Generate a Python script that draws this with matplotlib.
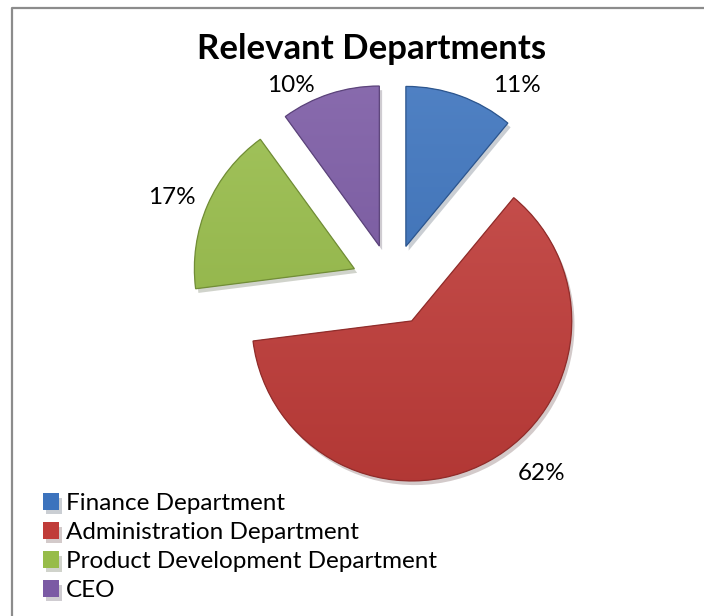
import numpy as np
import matplotlib
matplotlib.use("Agg")
import matplotlib.pyplot as plt
import matplotlib.patches as mpatches
import matplotlib.patheffects as pe
from matplotlib.colors import to_rgb
from matplotlib.lines import Line2D

departments = ["Finance Department", "Administration Department",
               "Product Development Department", "CEO"]
shares = [11, 62, 17, 10]
colors = ["#3c73bd", "#c03c39", "#97bc49", "#7b5aa4"]

# label anchor points, pixel coords (y measured from top)
label_xy = [(517, 85), (542, 473), (172, 197), (291, 85)]

W, H = 704, 616
plt.rcParams['font.family'] = ['Lato', 'DejaVu Sans']

fig = plt.figure(figsize=(W / 100, H / 100), dpi=100)
ax = fig.add_axes([0, 0, 1, 1])

wedges, _ = ax.pie(shares, explode=[41] * len(shares), center=(392, H - 285),
                   radius=160, startangle=90, counterclock=False,
                   colors=colors)


def shade(c, f):
    c = np.array(to_rgb(c))
    if f > 0:
        return c + (1 - c) * f
    return c * (1 + f)


# soft vertical gradient + darker rim on every slice
for w, c in zip(wedges, colors):
    w.set_path_effects([pe.SimplePatchShadow(offset=(2, -3), alpha=0.22),
                        pe.Normal()])
    cx, cy = w.center
    r = w.r
    n = 200
    t = np.linspace(0, 1, n)[:, None]
    top, bot = shade(c, 0.10), shade(c, -0.07)
    grad = bot[None, :] * (1 - t) + top[None, :] * t
    img = np.repeat(grad[:, None, :], 2, axis=1)
    im = ax.imshow(img, extent=[cx - r, cx + r, cy - r, cy + r],
                   origin='lower', aspect='auto', zorder=w.get_zorder() + 0.1,
                   interpolation='bilinear')
    im.set_clip_path(w)
    ax.add_patch(mpatches.Wedge(w.center, r, w.theta1, w.theta2, fill=False,
                                ec=shade(c, -0.25), lw=0.9,
                                zorder=w.get_zorder() + 0.2))

for v, (lx, ly) in zip(shares, label_xy):
    ax.text(lx, H - ly, f"{v}%", ha='center', va='center', fontsize=17.5,
            color='black')

ax.set_xlim(0, W)
ax.set_ylim(0, H)
ax.axis('off')

fig.text(372 / W, 1 - 49 / H, "Relevant Departments", ha='center',
         va='center', fontsize=25, fontweight='bold')

ax.legend(wedges, departments, loc='upper left',
          bbox_to_anchor=(43 / W, 1 - 493 / H), frameon=False,
          fontsize=17.5, handlelength=0.65, handleheight=0.65,
          handletextpad=0.3, labelspacing=0.33, borderpad=0,
          borderaxespad=0)

# chart area border (left and top edges visible)
fig.add_artist(Line2D([12 / W, 12 / W, 1.0], [0, 1 - 8 / H, 1 - 8 / H],
                      transform=fig.transFigure, color='#8c8c8c', lw=1.6))

fig.savefig("out.png", dpi=100)
